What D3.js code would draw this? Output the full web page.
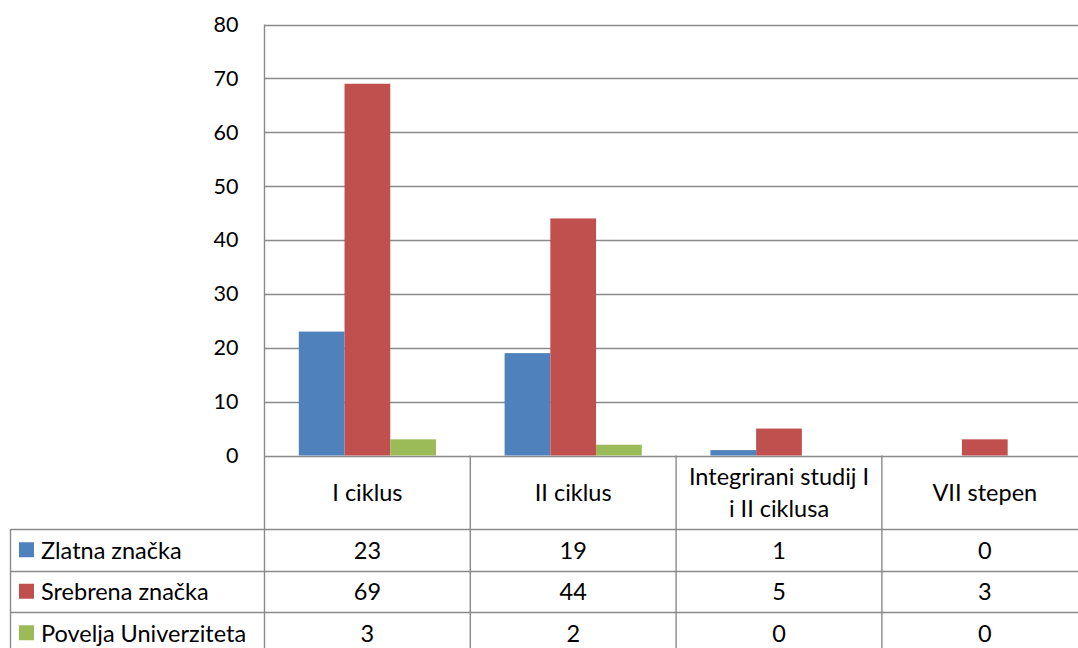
<!DOCTYPE html>
<html><head><meta charset="utf-8">
<script src="https://cdn.jsdelivr.net/npm/d3@7"></script>
<style>
html,body{margin:0;padding:0;background:#fff;}
svg{display:block;font-family:Lato,"Open Sans",sans-serif;}
</style></head>
<body>
<svg id="c" width="1078" height="648"></svg>
<script>
const categories = [["I ciklus"], ["II ciklus"], ["Integrirani studij I", "i II ciklusa"], ["VII stepen"]];
const seriesNames = ["Zlatna značka", "Srebrena značka", "Povelja Univerziteta"];
const zlatna = [23, 19, 1, 0];
const srebrena = [69, 44, 5, 3];
const povelja = [3, 2, 0, 0];
const yTicks = [0, 10, 20, 30, 40, 50, 60, 70, 80];
const colors = ["#4F81BD", "#C0504D", "#9BBB59"];

const series = [zlatna, srebrena, povelja];
const svg = d3.select("#c");
const L = 264.5, R = 1087.7, T = 24.5, B = 455.5;
const rowH = 41.5;
const headerBottom = 529;
const tableLeft = 10.5;
const gridColor = "#8a8a8a";
const fs = 23.5;

const x = d3.scaleBand().domain(d3.range(categories.length)).range([L, R]).paddingInner(0).paddingOuter(0);
const y = d3.scaleLinear().domain([0, 80]).range([B, T]);
const xs = d3.scaleBand().domain(d3.range(series.length)).range([0, x.bandwidth()]).paddingOuter(0.75).paddingInner(0);

// gridlines
svg.append("g").selectAll("line").data(yTicks).join("line")
  .attr("x1", L).attr("x2", 1078)
  .attr("y1", d => Math.round(y(d)) + 0.5).attr("y2", d => Math.round(y(d)) + 0.5)
  .attr("stroke", gridColor).attr("stroke-width", 1.4);

// y labels
const yAxis = d3.axisLeft(y).tickValues(yTicks).tickSize(0).tickPadding(26);
const ga = svg.append("g").attr("transform", `translate(${L},0)`).call(yAxis);
ga.select(".domain").remove();
ga.selectAll("text").attr("font-size", 21.5).attr("fill", "#000").attr("font-family", "Lato, 'Open Sans', sans-serif");

// bars
series.forEach((s, si) => {
  svg.append("g").selectAll("rect").data(s).join("rect")
    .attr("x", (d, i) => x(i) + xs(si))
    .attr("width", xs.bandwidth())
    .attr("y", d => y(d))
    .attr("height", d => B - y(d))
    .attr("fill", colors[si]);
});

// left axis line
svg.append("line").attr("x1", L).attr("x2", L).attr("y1", T).attr("y2", 648)
  .attr("stroke", gridColor).attr("stroke-width", 1.4);

// category separators in table
svg.append("g").selectAll("line").data(d3.range(1, categories.length + 1)).join("line")
  .attr("x1", i => x(i) === undefined ? R : x(i)).attr("x2", i => x(i) === undefined ? R : x(i))
  .attr("y1", B).attr("y2", 648)
  .attr("stroke", gridColor).attr("stroke-width", 1.4);

// table horizontal lines
const rowTops = d3.range(series.length + 1).map(i => headerBottom + i * rowH);
svg.append("g").selectAll("line").data(rowTops).join("line")
  .attr("x1", tableLeft).attr("x2", 1078)
  .attr("y1", d => Math.round(d) + 0.5).attr("y2", d => Math.round(d) + 0.5)
  .attr("stroke", gridColor).attr("stroke-width", 1.4);
svg.append("line").attr("x1", tableLeft).attr("x2", tableLeft).attr("y1", headerBottom).attr("y2", 648)
  .attr("stroke", gridColor).attr("stroke-width", 1.4);

// header labels
categories.forEach((lines, i) => {
  const cx = x(i) + x.bandwidth() / 2;
  const cy = (B + headerBottom) / 2;
  const lh = 32;
  lines.forEach((t, k) => {
    svg.append("text").attr("x", cx).attr("y", cy + (k - (lines.length - 1) / 2) * lh)
      .attr("text-anchor", "middle").attr("dominant-baseline", "central")
      .attr("font-size", fs).attr("fill", "#000").text(t);
  });
});

// rows
series.forEach((s, si) => {
  const cy = headerBottom + si * rowH + rowH / 2;
  svg.append("rect").attr("x", 19).attr("y", cy - 7.5).attr("width", 15).attr("height", 15).attr("fill", colors[si]);
  svg.append("text").attr("x", 41).attr("y", cy).attr("dominant-baseline", "central")
    .attr("font-size", fs).attr("fill", "#000").text(seriesNames[si]);
  s.forEach((v, i) => {
    svg.append("text").attr("x", x(i) + x.bandwidth() / 2).attr("y", cy)
      .attr("text-anchor", "middle").attr("dominant-baseline", "central")
      .attr("font-size", fs).attr("fill", "#000").text(v);
  });
});
</script>
</body></html>
